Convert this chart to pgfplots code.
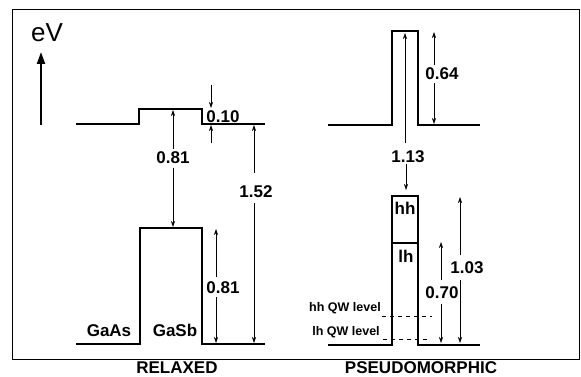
\documentclass[border=0pt]{standalone}
\usepackage{fontspec}
\setmainfont{Liberation Sans}
\usepackage{pgfplots}
\pgfplotsset{compat=1.18}
\usetikzlibrary{arrows.meta}
\tikzset{lab/.style={font=\bfseries\fontsize{17}{19}\selectfont, inner sep=0pt},
  dim/.style={black, line width=0.6pt, mark=none, -{Stealth[length=6pt,width=4pt]}},
  lev/.style={black, line width=1.8pt, mark=none}}
\begin{document}
\begin{tikzpicture}
\begin{axis}[hide axis, clip=false, scale only axis,
  width=581pt, height=377pt,
  xmin=0, xmax=581, ymin=0, ymax=377, y dir=reverse]
\path (rel axis cs:0,0) rectangle (rel axis cs:1,1);
% frame
\addplot[black, line width=0.9pt, mark=none] coordinates {(12,9)(579,9)(579,359)(12,359)(12,9)};
% eV arrow
\addplot[black, line width=2pt, mark=none, -{Triangle[length=12pt,width=8pt]}] coordinates {(41,125)(41,52)};
\node[font=\fontsize{26}{28}\selectfont, inner sep=0pt] at (axis cs:47,33) {eV};
% ---- RELAXED ----
\addplot[lev] coordinates {(76,124)(139,124)(139,109)(202,109)(202,124)(265,124)};
\addplot[lev] coordinates {(76,344)(140,344)(140,228)(202,228)(202,344)(265,344)};
% 0.10
\addplot[dim] coordinates {(211,85)(211,108)};
\addplot[dim] coordinates {(211,143)(211,125)};
\node[lab] at (axis cs:223,117) {0.10};
% 0.81 middle
\addplot[dim] coordinates {(173,149)(173,110)};
\addplot[dim] coordinates {(173,168)(173,227)};
\node[lab] at (axis cs:173,157.5) {0.81};
% 1.52
\addplot[dim] coordinates {(254,173)(254,125)};
\addplot[dim] coordinates {(254,203)(254,343)};
\node[lab] at (axis cs:256,192) {1.52};
% 0.81 right
\addplot[dim] coordinates {(216,277)(216,229)};
\addplot[dim] coordinates {(216,297)(216,343)};
\node[lab] at (axis cs:223,288) {0.81};
\node[lab] at (axis cs:109,331) {GaAs};
\node[lab] at (axis cs:175,330) {GaSb};
\node[lab] at (axis cs:177,368) {RELAXED};
% ---- PSEUDOMORPHIC ----
\addplot[lev] coordinates {(328,125)(392,125)(392,31)(418,31)(418,125)(480,125)};
\addplot[lev] coordinates {(328,345)(392,345)(392,196)(418,196)(418,345)(480,345)};
\addplot[black, line width=1.3pt, mark=none] coordinates {(392,243)(418,243)};
% 1.13
\addplot[dim] coordinates {(405,143)(405,33)};
\addplot[dim] coordinates {(406,164)(406,190)};
\node[lab] at (axis cs:408,157) {1.13};
% 0.64
\addplot[dim] coordinates {(434,65)(434,32)};
\addplot[dim] coordinates {(434,83)(434,124)};
\node[lab] at (axis cs:442,74) {0.64};
% hh, lh
\node[lab] at (axis cs:405,208) {hh};
\node[lab] at (axis cs:406,256) {lh};
% 0.70
\addplot[dim] coordinates {(441,280)(441,242)};
\addplot[dim] coordinates {(441,304)(441,343)};
\node[lab] at (axis cs:442,293) {0.70};
% 1.03
\addplot[dim] coordinates {(460,255)(460,197)};
\addplot[dim] coordinates {(460,280)(460,343)};
\node[lab] at (axis cs:467,268) {1.03};
% QW levels
\addplot[black, line width=0.8pt, mark=none, dash pattern=on 4pt off 4pt] coordinates {(382,316)(432,316)};
\addplot[black, line width=0.8pt, mark=none, dash pattern=on 4pt off 4pt] coordinates {(383,339)(430,339)};
\node[font=\bfseries\fontsize{12.5}{14}\selectfont, inner sep=0pt] at (axis cs:345,308) {hh QW level};
\node[font=\bfseries\fontsize{12.5}{14}\selectfont, inner sep=0pt] at (axis cs:346,332) {lh QW level};
\node[lab] at (axis cs:421,368) {PSEUDOMORPHIC};
\end{axis}
\end{tikzpicture}
\end{document}
